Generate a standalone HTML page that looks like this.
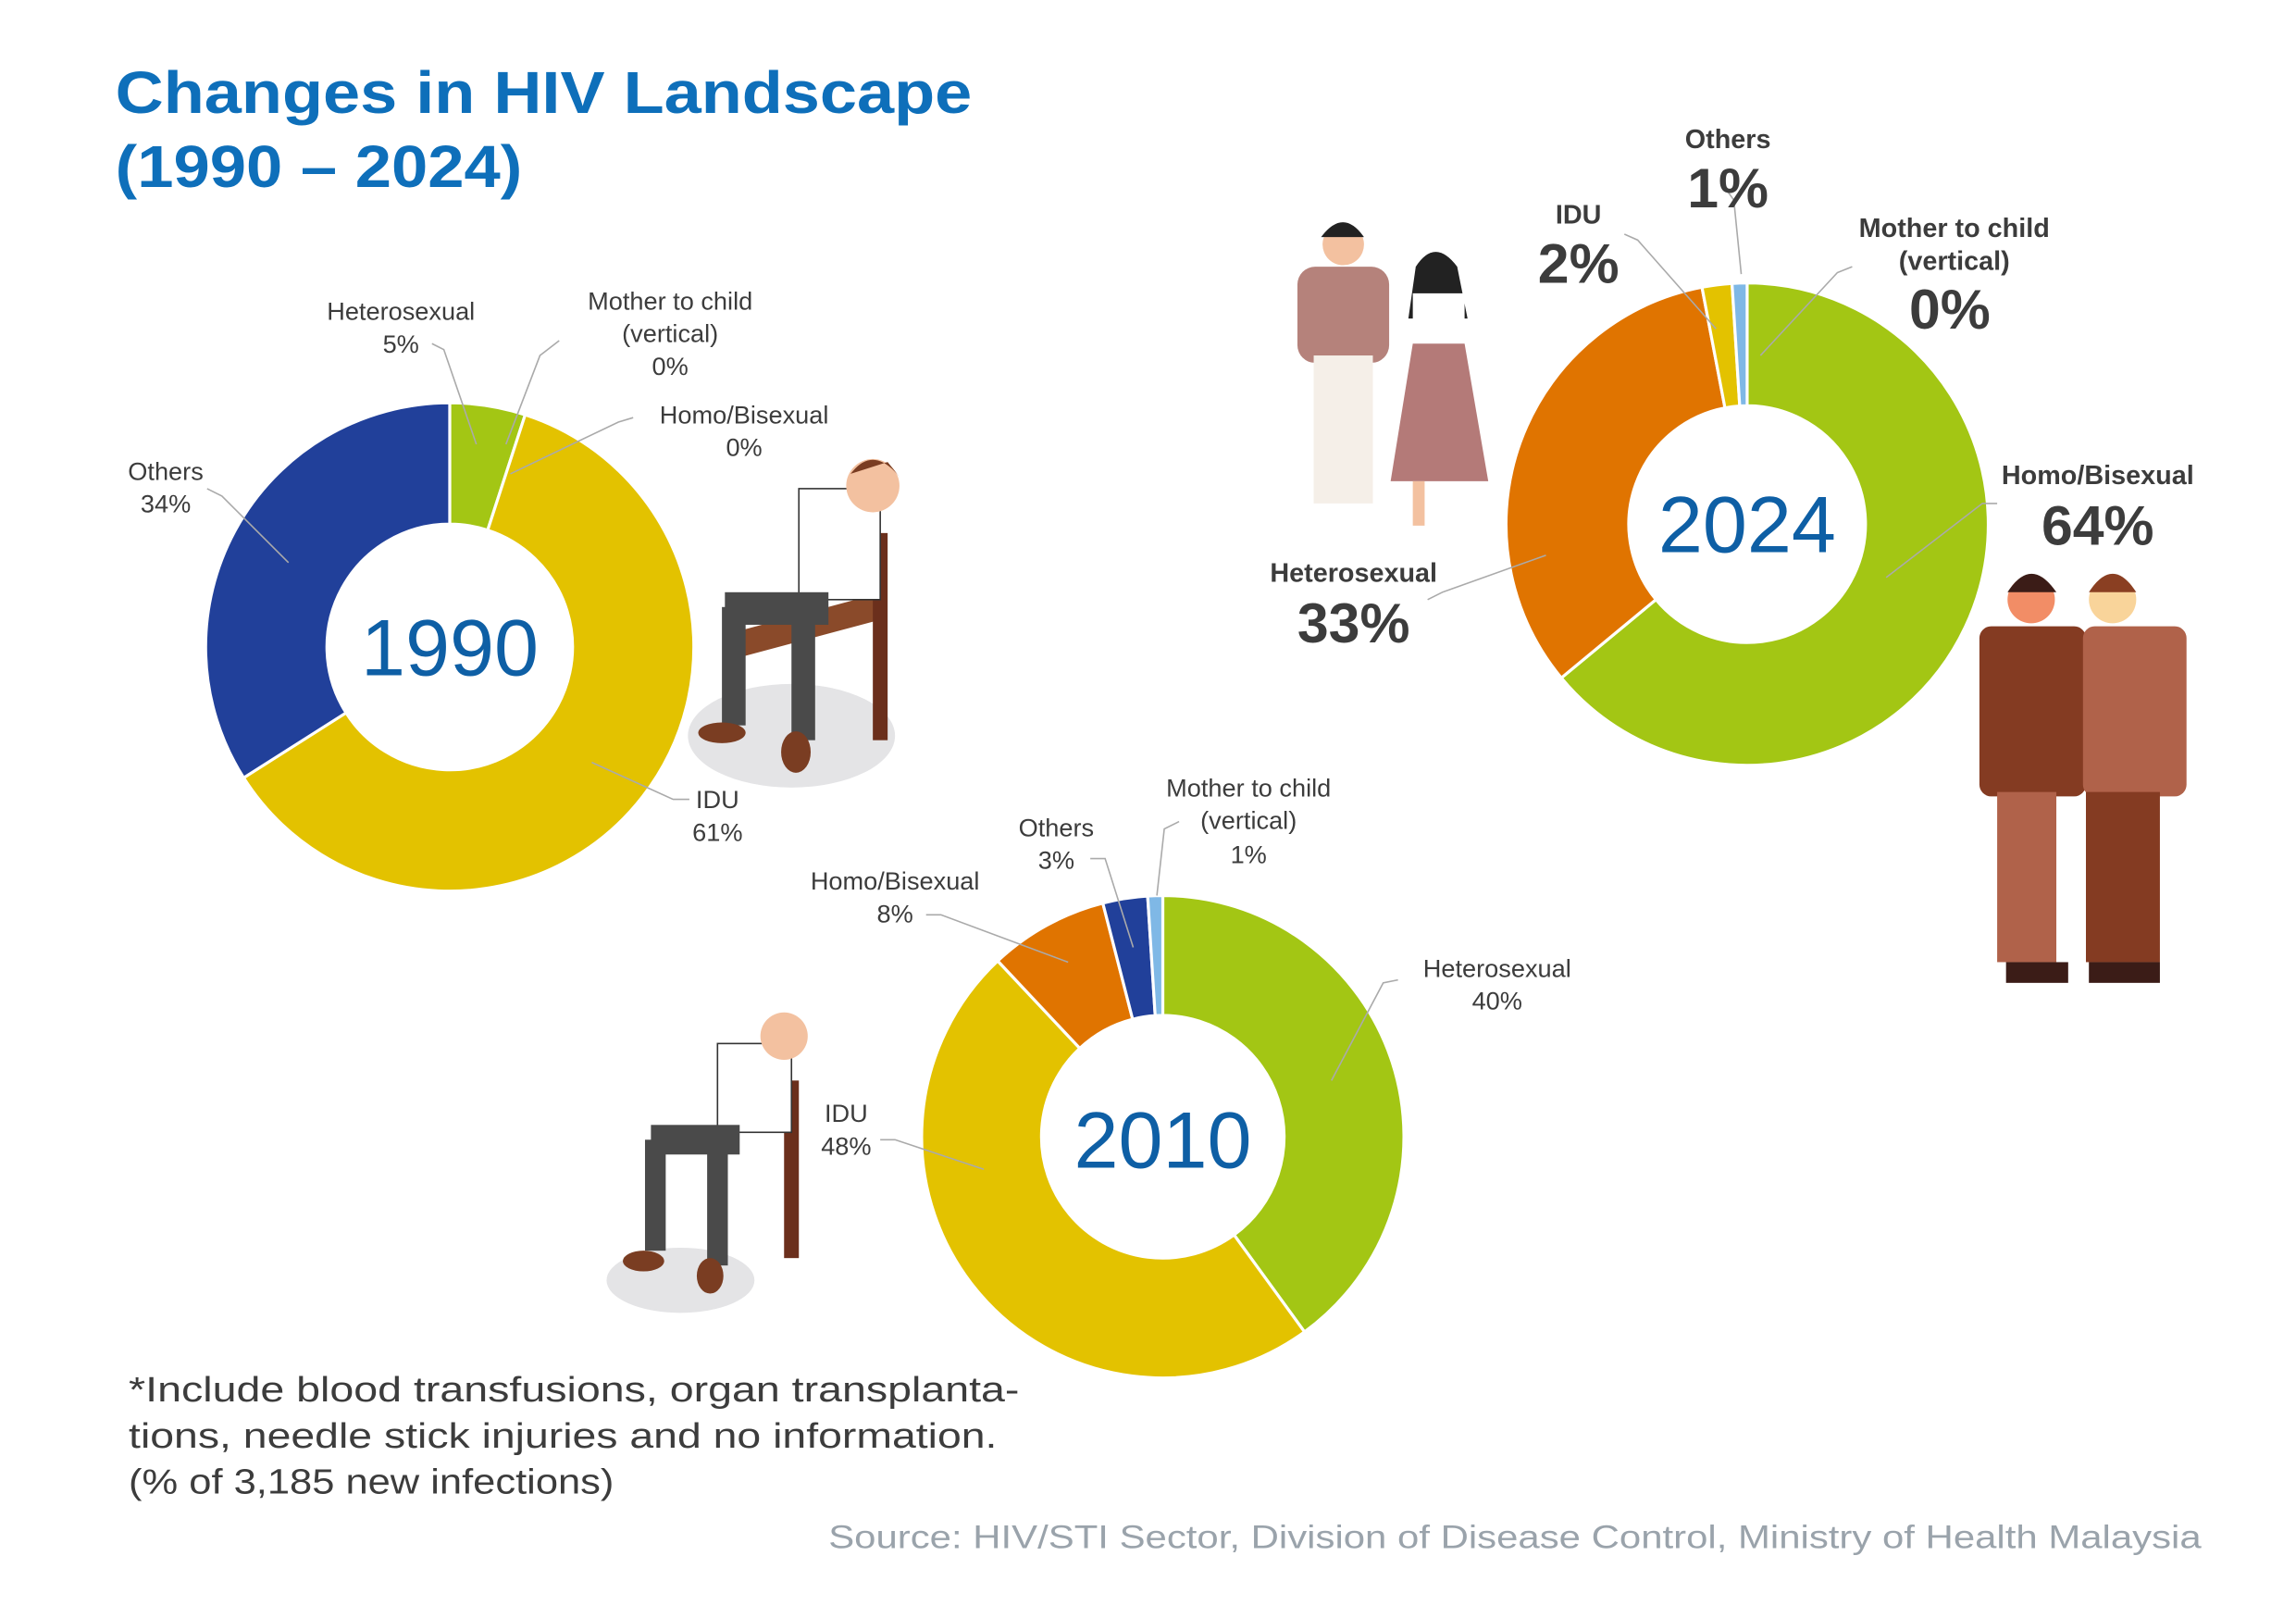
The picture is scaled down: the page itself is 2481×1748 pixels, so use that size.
<!DOCTYPE html>
<html><head><meta charset="utf-8"><style>
html,body{margin:0;padding:0;background:#fff}
svg{display:block}
text{font-family:"Liberation Sans",sans-serif}
</style></head><body>
<svg id="s" width="2481" height="1748" viewBox="0 0 1552 1093" xmlns="http://www.w3.org/2000/svg">
<rect width="1552" height="1093" fill="#fff"/>
<g id="donuts"></g>
<text x="78" y="76" font-size="40" font-weight="bold" fill="#0e6fba" textLength="579" lengthAdjust="spacingAndGlyphs">Changes in HIV Landscape</text>
<text x="78" y="126" font-size="40" font-weight="bold" fill="#0e6fba" textLength="275" lengthAdjust="spacingAndGlyphs">(1990 – 2024)</text>

<g fill="#0e5fa5" text-anchor="middle" font-size="54">
<text x="304" y="456">1990</text>
<text x="1181" y="373">2024</text>
<text x="786" y="789">2010</text>
</g>

<g stroke="#aaa" stroke-width="1" fill="none">
<polyline points="292,232 300,236 322,300"/>
<polyline points="378,230 365,240 342,300"/>
<polyline points="428,282 418,285 345,320"/>
<polyline points="140,330 150,335 195,380"/>
<polyline points="466,540 455,540 400,515"/>
<polyline points="1098,158 1107,162 1160,222"/>
<polyline points="1167,128 1172,135 1177,185"/>
<polyline points="1252,180 1242,184 1190,240"/>
<polyline points="1350,340 1340,340 1275,390"/>
<polyline points="965,405 975,400 1045,375"/>
<polyline points="626,618 636,618 722,650"/>
<polyline points="737,580 747,580 766,640"/>
<polyline points="797,555 787,560 782,605"/>
<polyline points="945,662 935,664 900,730"/>
<polyline points="595,770 605,770 665,790"/>
</g>

<g fill="#3c3c3c" font-size="17" text-anchor="middle">
<text x="271" y="216">Heterosexual</text><text x="271" y="238">5%</text>
<text x="453" y="209">Mother to child</text><text x="453" y="231">(vertical)</text><text x="453" y="253">0%</text>
<text x="503" y="286">Homo/Bisexual</text><text x="503" y="308">0%</text>
<text x="112" y="324">Others</text><text x="112" y="346">34%</text>
<text x="485" y="546">IDU</text><text x="485" y="568">61%</text>
<text x="844" y="538">Mother to child</text><text x="844" y="560">(vertical)</text><text x="844" y="583">1%</text>
<text x="714" y="565">Others</text><text x="714" y="587">3%</text>
<text x="605" y="601">Homo/Bisexual</text><text x="605" y="623">8%</text>
<text x="1012" y="660">Heterosexual</text><text x="1012" y="682">40%</text>
<text x="572" y="758">IDU</text><text x="572" y="780">48%</text>
</g>
<g fill="#3c3c3c" text-anchor="middle" font-weight="bold">
<text x="1168" y="100" font-size="18">Others</text><text x="1168" y="140" font-size="38">1%</text>
<text x="1067" y="151" font-size="18">IDU</text><text x="1067" y="191" font-size="38">2%</text>
<text x="1321" y="160" font-size="18">Mother to child</text><text x="1321" y="182" font-size="18">(vertical)</text><text x="1318" y="222" font-size="38">0%</text>
<text x="1418" y="327" font-size="18">Homo/Bisexual</text><text x="1418" y="368" font-size="38">64%</text>
<text x="915" y="393" font-size="18">Heterosexual</text><text x="915" y="434" font-size="38">33%</text>
</g>

<g fill="#3c3c3c" font-size="24">
<text x="87" y="947" textLength="602" lengthAdjust="spacingAndGlyphs">*Include blood transfusions, organ transplanta-</text>
<text x="87" y="978" textLength="587" lengthAdjust="spacingAndGlyphs">tions, needle stick injuries and no information.</text>
<text x="87" y="1009" textLength="328" lengthAdjust="spacingAndGlyphs">(% of 3,185 new infections)</text>
</g>
<text x="560" y="1046" font-size="22" fill="#9aa3ab" textLength="928" lengthAdjust="spacingAndGlyphs">Source: HIV/STI Sector, Division of Disease Control, Ministry of Health Malaysia</text>

<g>
<ellipse cx="535" cy="497" rx="70" ry="35" fill="#e4e4e6"/>
<rect x="498" y="420" width="100" height="18" fill="#8a4a2a" transform="skewY(-15) translate(0,140)"/>
<rect x="590" y="360" width="10" height="140" fill="#6b2f1c"/>
<rect x="540" y="330" width="55" height="75" fill="#fff" stroke="#333"/>
<rect x="490" y="400" width="70" height="22" fill="#4a4a4a"/>
<rect x="488" y="410" width="16" height="80" fill="#4a4a4a"/>
<rect x="535" y="410" width="16" height="90" fill="#4a4a4a"/>
<circle cx="590" cy="328" r="18" fill="#f3c1a0"/>
<path d="M575 320 Q590 300 608 322 L600 312Z" fill="#7a3d22"/>
<ellipse cx="488" cy="495" rx="16" ry="7" fill="#7a3d22"/><ellipse cx="538" cy="508" rx="10" ry="14" fill="#7a3d22"/>
</g>
<g>
<ellipse cx="460" cy="865" rx="50" ry="22" fill="#e4e4e6"/>
<rect x="530" y="730" width="10" height="120" fill="#6b2f1c"/>
<rect x="485" y="705" width="50" height="60" fill="#fff" stroke="#333"/>
<rect x="440" y="760" width="60" height="20" fill="#4a4a4a"/>
<rect x="436" y="770" width="14" height="75" fill="#4a4a4a"/>
<rect x="478" y="770" width="14" height="85" fill="#4a4a4a"/>
<circle cx="530" cy="700" r="16" fill="#f3c1a0"/>
<ellipse cx="435" cy="852" rx="14" ry="7" fill="#7a3d22"/><ellipse cx="480" cy="862" rx="9" ry="12" fill="#7a3d22"/>
</g>
<g>
<circle cx="908" cy="165" r="14" fill="#f3c1a0"/><path d="M893 160 Q908 140 922 160Z" fill="#222"/>
<rect x="877" y="180" width="62" height="65" rx="12" fill="#b5827b"/>
<rect x="888" y="240" width="40" height="100" fill="#f5efe8"/>
<circle cx="970" cy="185" r="12" fill="#f3c1a0"/><path d="M957 180 Q970 160 985 180 L992 215 L952 215Z" fill="#222"/>
<rect x="955" y="198" width="35" height="35" fill="#fff"/>
<path d="M955 232 L990 232 L1006 325 L940 325Z" fill="#b47a78"/>
<rect x="955" y="325" width="8" height="30" fill="#f3c1a0"/>
</g>
<g>
<circle cx="1373" cy="405" r="16" fill="#f28d66"/><path d="M1357 400 Q1373 375 1390 400Z" fill="#3b1c17"/>
<circle cx="1428" cy="405" r="16" fill="#f9d49a"/><path d="M1412 400 Q1428 375 1444 400Z" fill="#8a3f22"/>
<rect x="1338" y="423" width="72" height="115" rx="8" fill="#843b22"/>
<rect x="1408" y="423" width="70" height="115" rx="8" fill="#b0624a"/>
<rect x="1350" y="535" width="40" height="115" fill="#b0624a"/>
<rect x="1410" y="535" width="50" height="115" fill="#843b22"/>
<rect x="1356" y="650" width="42" height="14" fill="#3b1c17"/>
<rect x="1412" y="650" width="48" height="14" fill="#3b1c17"/>
</g>
</svg>
<script>
function seg(cx,cy,R,r,a0,a1,col){
  const t=a=>a*Math.PI/180;
  const p=(rad,a)=>[cx+rad*Math.sin(t(a)),cy-rad*Math.cos(t(a))];
  const L=(a1-a0)>180?1:0;
  const [x0,y0]=p(R,a0),[x1,y1]=p(R,a1),[x2,y2]=p(r,a1),[x3,y3]=p(r,a0);
  return `<path d="M${x0} ${y0}A${R} ${R} 0 ${L} 1 ${x1} ${y1}L${x2} ${y2}A${r} ${r} 0 ${L} 0 ${x3} ${y3}Z" fill="${col}" stroke="#fff" stroke-width="2"/>`;
}
const G='#a3c614',Y='#e3c200',B='#21409a',O='#e07400',LB='#7fb8e6';
function donut(cx,cy,R,r,parts){let a=0,s='';for(const [v,c] of parts){s+=seg(cx,cy,R,r,a,a+v*3.6,c);a+=v*3.6;}return s;}
let h='';
h+=donut(304,437,165,83,[[5,G],[61,Y],[34,B]]);
h+=donut(1181,354,163,80,[[64,G],[33,O],[2,Y],[1,LB]]);
h+=donut(786,768,163,82,[[40,G],[48,Y],[8,O],[3,B],[1,LB]]);
document.getElementById('donuts').innerHTML=h;
</script>
</body></html>
